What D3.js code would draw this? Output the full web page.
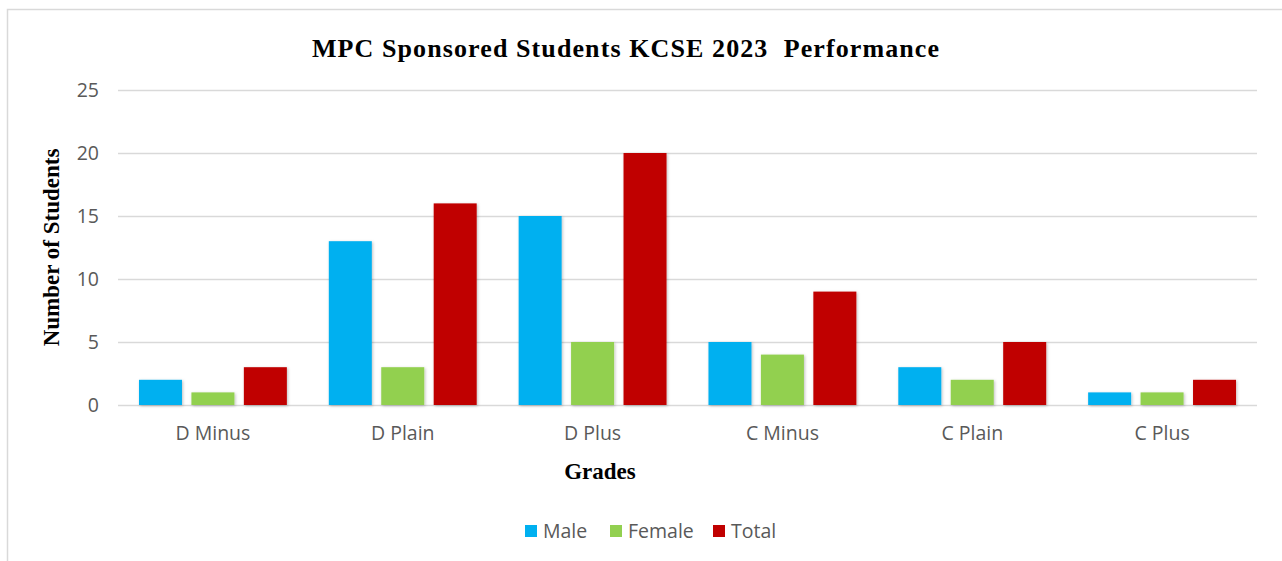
<!DOCTYPE html>
<html>
<head>
<meta charset="utf-8">
<script src="https://cdn.jsdelivr.net/npm/d3@7"></script>
<style>
  body { margin: 0; background: #fff; }
  svg { display: block; }
</style>
</head>
<body>
<div id="chart"></div>
<script>
// data
const grades = ["D Minus", "D Plain", "D Plus", "C Minus", "C Plain", "C Plus"];
const seriesNames = ["Male", "Female", "Total"];
const male = [2, 13, 15, 5, 3, 1];
const female = [1, 3, 5, 4, 2, 1];
const total = [3, 16, 20, 9, 5, 2];
const yTicks = [0, 5, 10, 15, 20, 25];

const colors = { Male: "#00B0F0", Female: "#92D050", Total: "#C00000" };
const W = 1282, H = 561;
const m = { top: 90, right: 25, bottom: 156, left: 118 };
const sans = "'Open Sans', sans-serif";
const serif = "'Liberation Serif', serif";

const svg = d3.select("#chart").append("svg")
  .attr("width", W).attr("height", H);

// soft shadow like the office chart
const defs = svg.append("defs");
const f = defs.append("filter").attr("id", "shadow")
  .attr("x", "-20%").attr("y", "-20%").attr("width", "140%").attr("height", "140%");
f.append("feDropShadow").attr("dx", 1).attr("dy", 1).attr("stdDeviation", 1.5)
  .attr("flood-color", "#000").attr("flood-opacity", 0.25);

// outer frame
svg.append("rect")
  .attr("x", 7.5).attr("y", 9.5)
  .attr("width", W + 10).attr("height", H + 10)
  .attr("fill", "none").attr("stroke", "#d9d9d9").attr("stroke-width", 1.5);

const x0 = d3.scaleBand().domain(grades).range([m.left, W - m.right]);
const x1 = d3.scaleBand().domain(seriesNames).range([0, x0.bandwidth()])
  .paddingInner(0.18).paddingOuter(0.4);
const y = d3.scaleLinear().domain([0, 25]).range([H - m.bottom, m.top]);

// gridlines + y tick labels
svg.append("g")
  .attr("transform", `translate(${m.left},0)`)
  .call(d3.axisLeft(y).tickValues(yTicks).tickSize(-(W - m.right - m.left)).tickFormat(d3.format("d")))
  .call(g => g.select(".domain").remove())
  .call(g => g.selectAll(".tick line").attr("stroke", "#d9d9d9").attr("stroke-width", 1.5))
  .call(g => g.selectAll(".tick text")
    .attr("x", -19)
    .attr("fill", "#595959")
    .style("font-family", sans)
    .style("font-size", "19.5px"));

const table = grades.map((g, i) => ({ grade: g, Male: male[i], Female: female[i], Total: total[i] }));

svg.append("g").selectAll("g")
  .data(table)
  .join("g")
  .attr("transform", d => `translate(${x0(d.grade)},0)`)
  .selectAll("rect")
  .data(d => seriesNames.map(k => ({ key: k, value: d[k] })))
  .join("rect")
  .attr("x", d => x1(d.key))
  .attr("y", d => y(d.value))
  .attr("width", x1.bandwidth())
  .attr("height", d => y(0) - y(d.value))
  .attr("fill", d => colors[d.key])
  .attr("filter", "url(#shadow)");

// x axis labels
svg.append("g")
  .attr("transform", `translate(0,${y(0)})`)
  .call(d3.axisBottom(x0).tickSize(0).tickPadding(21))
  .call(g => g.select(".domain").remove())
  .call(g => g.selectAll(".tick text")
    .attr("fill", "#595959")
    .style("font-family", sans)
    .style("font-size", "19.5px"));

// titles
svg.append("text")
  .attr("x", 626).attr("y", 57)
  .attr("text-anchor", "middle")
  .style("font-family", serif)
  .style("font-weight", "bold")
  .style("font-size", "26px")
  .style("letter-spacing", "1.1px")
  .style("white-space", "pre")
  .attr("fill", "#000")
  .text("MPC Sponsored Students KCSE 2023  Performance");

svg.append("text")
  .attr("transform", `translate(59,${(y(0) + y(25)) / 2}) rotate(-90)`)
  .attr("text-anchor", "middle")
  .style("font-family", serif)
  .style("font-weight", "bold")
  .style("font-size", "23px")
  .text("Number of Students");

svg.append("text")
  .attr("x", 600).attr("y", 479)
  .attr("text-anchor", "middle")
  .style("font-family", serif)
  .style("font-weight", "bold")
  .style("font-size", "23px")
  .text("Grades");

// legend
const legendX = [525, 610, 713];
const legend = svg.append("g").attr("class", "legend");
seriesNames.forEach((k, i) => {
  legend.append("rect")
    .attr("x", legendX[i]).attr("y", 525)
    .attr("width", 12).attr("height", 12)
    .attr("fill", colors[k]);
  legend.append("text")
    .attr("x", legendX[i] + 18).attr("y", 538)
    .attr("fill", "#595959")
    .style("font-family", sans)
    .style("font-size", "19.5px")
    .text(k);
});
</script>
</body>
</html>
